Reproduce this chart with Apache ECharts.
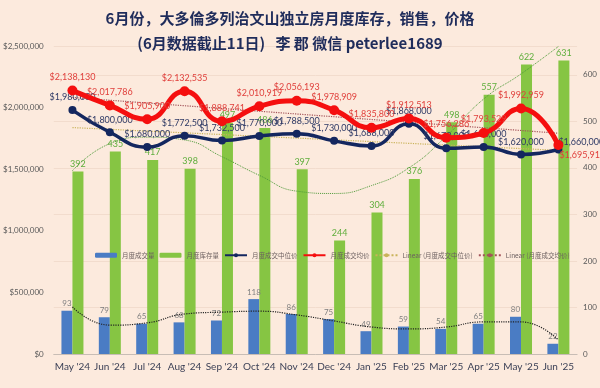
<!DOCTYPE html>
<html><head><meta charset="utf-8">
<script src="https://cdn.jsdelivr.net/npm/echarts@6/dist/echarts.min.js"></script>
<style>html,body{margin:0;padding:0;background:#FCEADD}#c{width:600px;height:388px}</style>
</head><body><div id="c"></div>
<script>
const categories = ["May '24","Jun '24","Jul '24","Aug '24","Sep '24","Oct '24","Nov '24","Dec '24","Jan '25","Feb '25","Mar '25","Apr '25","May '25","Jun '25"];
const sales = [93,79,65,68,72,118,86,75,49,59,54,65,80,22];
const inventory = [392,435,417,398,497,486,397,244,304,376,498,557,622,631];
const median = [1980000,1800000,1680000,1772500,1732500,1770000,1788500,1730000,1688000,1868000,1670000,1680000,1620000,1660000];
const average = [2138130,2017786,1905900,2132535,1888741,2010919,2056193,1978909,1835800,1912513,1756286,1793529,1992959,1695912];
// trendlines
const medianTrendEnds = [1838000, 1653000];
const averageTrendEnds = [2082000, 1792000];
const inventoryTrend = [394,452,466,460,424,384,350,345,362,400,468,548,602,661];
const salesTrend = [101,62,67,86,90,92,84,71,58,54,58,69,69,30];
const leftTicks = [0, 2500000, 500000];
const rightTicks = [0, 662, 100];
const titleLine1 = '6月份，大多倫多列治文山独立房月度库存，销售，价格';
const titleLine2 = '(6月数据截止11日)   李 郡 微信 peterlee1689';

const FONT = '"Noto Sans CJK SC","Noto Sans",sans-serif';
const NARROW = 'Lato,"Noto Sans",sans-serif';
const money = v => '$' + Math.round(v).toLocaleString('en-US');
const ends = e => categories.map((c,i)=> i===0 ? e[0] : (i===categories.length-1 ? e[1] : null));

const chart = echarts.init(document.getElementById('c'));
chart.setOption({
  backgroundColor: '#FCEADD',
  animation: false,
  textStyle: {fontFamily: FONT},
  title: [
    {text: titleLine1, left: 285, top: 6, textAlign: 'center',
     textStyle: {fontSize: 15, fontWeight: 'bold', color: '#1F2C5B', fontFamily: FONT}},
    {text: titleLine2, left: 285, top: 31, textAlign: 'center',
     textStyle: {fontSize: 15, fontWeight: 'bold', color: '#1F2C5B', fontFamily: FONT}}
  ],
  legend: {
    left: 90, top: 247, width: 505, itemWidth: 22, itemHeight: 5, itemGap: 5,
    textStyle: {fontSize: 6.5, color: '#6b5f5f'},
    data: ['月度成交量','月度库存量','月度成交中位价','月度成交均价','Linear (月度成交中位价)','Linear (月度成交均价)']
  },
  grid: {left: 48, right: 21, top: 46, bottom: 34},
  xAxis: {
    type: 'category', data: categories,
    axisTick: {show: false},
    axisLine: {lineStyle: {color: '#c8bdb5'}},
    axisLabel: {fontSize: 10, color: '#3a3f55', margin: 8, interval: 0, fontFamily: NARROW}
  },
  yAxis: [
    {type: 'value', min: leftTicks[0], max: leftTicks[1], interval: leftTicks[2],
     axisLabel: {fontSize: 8, color: '#595959', margin: 10, fontFamily: NARROW, formatter: v => '$' + v.toLocaleString('en-US')},
     splitLine: {show: false}, axisLine: {show: false}, axisTick: {show: false}},
    {type: 'value', min: rightTicks[0], max: rightTicks[1], interval: rightTicks[2],
     axisLabel: {fontSize: 8, color: '#595959', margin: 6, showMaxLabel: false, fontFamily: NARROW},
     splitLine: {show: true, lineStyle: {color: '#f2dccd', width: 1}},
     axisLine: {show: false}, axisTick: {show: false}}
  ],
  series: [
    {name: '月度成交量', type: 'bar', yAxisIndex: 1, data: sales, barWidth: 11, barGap: '0%',
     itemStyle: {color: '#4A7CC4'},
     label: {show: true, position: 'top', fontSize: 8, color: '#7f7f7f', distance: 3, fontFamily: NARROW}},
    {name: '月度库存量', type: 'bar', yAxisIndex: 1, data: inventory, barWidth: 11, barGap: '0%',
     itemStyle: {color: '#86C543'},
     label: {show: true, position: 'top', fontSize: 9, color: '#5fae3c', distance: 3, fontFamily: NARROW}},
    {name: '', type: 'line', yAxisIndex: 1, data: inventoryTrend, smooth: true, symbol: 'none',
     lineStyle: {color: '#4f9a3a', width: 1, type: 'dotted'}, z: 3},
    {name: ' ', type: 'line', yAxisIndex: 1, data: salesTrend, smooth: true, symbol: 'none',
     lineStyle: {color: '#222', width: 1.2, type: 'dotted'}, z: 3},
    {name: 'Linear (月度成交中位价)', type: 'line', yAxisIndex: 0, data: ends(medianTrendEnds), connectNulls: true,
     symbol: 'none', lineStyle: {color: '#c9b35a', width: 1.2, type: 'dotted'}, itemStyle: {color: '#c9b35a'}, z: 3},
    {name: 'Linear (月度成交均价)', type: 'line', yAxisIndex: 0, data: ends(averageTrendEnds), connectNulls: true,
     symbol: 'none', lineStyle: {color: '#a4545a', width: 1.2, type: 'dotted'}, itemStyle: {color: '#a4545a'}, z: 3},
    {name: '月度成交中位价', type: 'line', yAxisIndex: 0, smooth: true, z: 4,
     data: median.map((v,i)=> i===median.length-1 ? {value: v, label: {position: 'right', offset: [-8,-7]}} : v),
     symbol: 'circle', symbolSize: 8,
     lineStyle: {color: '#14275F', width: 3.5}, itemStyle: {color: '#14275F'},
     label: {show: true, position: 'top', fontSize: 9, color: '#2f3a66', distance: 4, fontFamily: NARROW, formatter: p => money(p.value)}},
    {name: '月度成交均价', type: 'line', yAxisIndex: 0, smooth: true, z: 5,
     data: average.map((v,i)=> i===average.length-1 ? {value: v, label: {position: 'right', offset: [-8,10]}} : v),
     symbol: 'circle', symbolSize: 10,
     lineStyle: {color: '#F50F0F', width: 5}, itemStyle: {color: '#F50F0F'},
     label: {show: true, position: 'top', fontSize: 9, color: '#e0403c', distance: 4, fontFamily: NARROW, formatter: p => money(p.value)}}
  ]
});
</script></body></html>
